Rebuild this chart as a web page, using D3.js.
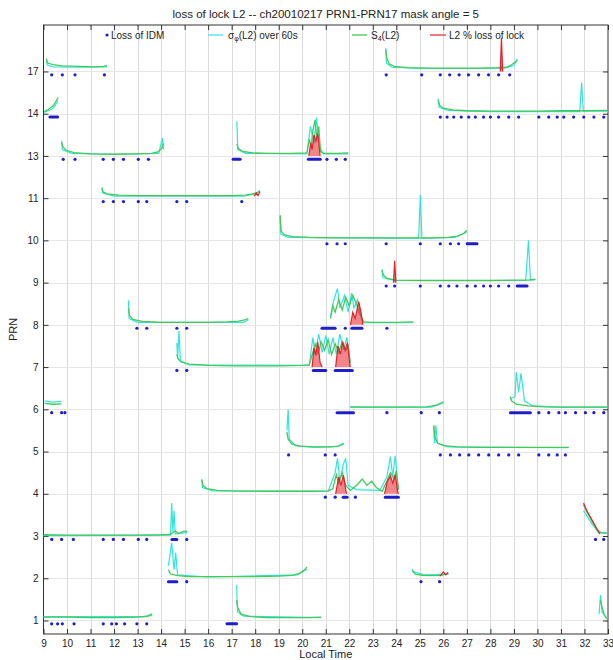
<!DOCTYPE html>
<html><head><meta charset="utf-8">
<script src="https://cdn.jsdelivr.net/npm/d3@7"></script>
<style>
html,body{margin:0;padding:0;background:#fff;}
svg{display:block;font-family:"Liberation Sans",Arial,Helvetica,sans-serif;}
</style></head><body>
<svg id="chart" width="613" height="660"></svg>
<script>
// ---------- data ----------
const prnLabels = ["1","2","3","4","5","6","7","8","9","10","11","13","14","17"];
const hourTicks = [9,10,11,12,13,14,15,16,17,18,19,20,21,22,23,24,25,26,27,28,29,30,31,32,33];
const titleText = "loss of lock L2 -- ch20010217 PRN1-PRN17 mask angle = 5";

// S4(L2) per pass: [row, [[localTime, value above row], ...]]
const s4Series = [
 [14, [[9.12,0.30],[9.18,0.2],[9.4,0.16],[9.8,0.13],[10.5,0.12],[11.2,0.11],[11.55,0.12],[11.7,0.14]]],
 [14, [[23.55,0.52],[23.6,0.3],[23.7,0.18],[23.9,0.12],[24.5,0.09],[25.5,0.08],[26.5,0.08],[27.5,0.08],[28.3,0.09],[28.7,0.1],[28.9,0.16],[29.05,0.22],[29.15,0.26]]],
 [13, [[9.03,0.05],[9.2,0.1],[9.4,0.18],[9.52,0.28],[9.62,0.38]]],
 [13, [[25.78,0.32],[25.84,0.2],[26.0,0.13],[26.4,0.09],[27,0.07],[28,0.06],[29,0.06],[30,0.06],[31,0.07],[32,0.07],[33,0.08]]],
 [12, [[9.77,0.32],[9.82,0.22],[9.95,0.14],[10.3,0.08],[11,0.05],[12,0.04],[13,0.05],[13.6,0.06],[13.9,0.1],[14.05,0.2],[14.1,0.3]]],
 [12, [[17.22,0.28],[17.28,0.18],[17.45,0.11],[17.9,0.07],[18.5,0.06],[19.5,0.06],[20.2,0.07],[20.3,0.4],[20.38,0.2],[20.45,0.6],[20.55,0.85],[20.62,0.4],[20.7,0.7],[20.78,0.1],[20.9,0.06],[21.5,0.06],[21.96,0.07]]],
 [11, [[11.48,0.23],[11.53,0.15],[11.7,0.1],[12.2,0.07],[13,0.06],[14,0.06],[15,0.06],[16,0.06],[17,0.06],[17.6,0.07],[17.9,0.1],[18.1,0.14],[18.21,0.16]]],
 [10, [[19.06,0.58],[19.1,0.22],[19.25,0.13],[19.6,0.09],[20.3,0.07],[21.5,0.06],[23,0.06],[24.5,0.06],[25.5,0.06],[26.2,0.07],[26.6,0.1],[26.85,0.16],[27.0,0.24]]],
 [9,  [[23.39,0.29],[23.45,0.18],[23.6,0.1],[24,0.06],[25,0.05],[26,0.05],[27,0.05],[28,0.05],[29,0.06],[29.6,0.06],[29.91,0.08]]],
 [8,  [[12.61,0.39],[12.66,0.22],[12.8,0.13],[13.2,0.08],[14,0.06],[15,0.06],[16,0.06],[16.8,0.07],[17.3,0.09],[17.55,0.12],[17.71,0.15]]],
 [8,  [[21.2,0.15],[21.3,0.45],[21.4,0.3],[21.55,0.6],[21.7,0.35],[21.85,0.65],[22.0,0.45],[22.15,0.7],[22.3,0.5],[22.45,0.25],[22.6,0.07],[23,0.06],[24,0.06],[24.72,0.07]]],
 [7,  [[14.67,0.3],[14.72,0.2],[14.85,0.12],[15.2,0.07],[16,0.04],[17,0.03],[18,0.03],[19,0.03],[20,0.04],[20.3,0.05],[20.45,0.35],[20.55,0.55],[20.68,0.3],[20.8,0.6],[20.95,0.4],[21.1,0.65],[21.25,0.3],[21.4,0.55],[21.55,0.35],[21.7,0.6],[21.85,0.4],[21.95,0.5],[22.04,0.1]]],
 [6,  [[9.05,0.14],[9.4,0.12],[9.77,0.13]]],
 [6,  [[22.04,0.06],[22.5,0.05],[23.5,0.05],[24.5,0.05],[25.3,0.06],[25.7,0.1],[25.9,0.15],[26.0,0.18]]],
 [6,  [[28.85,0.3],[28.9,0.2],[29.1,0.12],[29.6,0.08],[30.3,0.06],[31,0.05],[32,0.05],[33,0.05]]],
 [5,  [[19.35,0.46],[19.4,0.3],[19.55,0.18],[19.9,0.13],[20.5,0.11],[21.2,0.11],[21.55,0.13],[21.76,0.18]]],
 [5,  [[25.59,0.62],[25.64,0.35],[25.75,0.2],[26.0,0.14],[26.6,0.11],[27.5,0.1],[28.5,0.1],[29.5,0.1],[30.5,0.1],[31.33,0.1]]],
 [4,  [[15.73,0.33],[15.78,0.2],[15.95,0.12],[16.4,0.08],[17.2,0.065],[18.5,0.06],[19.5,0.06],[20.5,0.06],[21.1,0.07],[21.3,0.12],[21.45,0.45],[21.55,0.25],[21.7,0.5],[21.85,0.2],[22.05,0.08],[22.35,0.22],[22.55,0.35],[22.75,0.2],[22.95,0.3],[23.15,0.15],[23.4,0.06],[23.6,0.3],[23.75,0.5],[23.9,0.35],[24.0,0.55],[24.09,0.1]]],
 [3,  [[9.0,0.03],[10,0.02],[11,0.02],[12,0.02],[13,0.02],[14,0.03],[14.4,0.04],[14.6,0.12],[14.75,0.06],[14.9,0.1],[15.05,0.12],[15.1,0.1]]],
 [3,  [[31.96,0.74],[32.1,0.57],[32.25,0.42],[32.4,0.27],[32.55,0.14],[32.7,0.08],[33,0.07]]],
 [2,  [[14.31,0.2],[14.4,0.1],[14.7,0.06],[15.2,0.04],[16,0.04],[17,0.04],[18,0.04],[19,0.05],[19.6,0.07],[19.9,0.12],[20.1,0.2],[20.2,0.27]]],
 [2,  [[24.67,0.18],[24.8,0.1],[25.1,0.07],[25.5,0.06],[25.9,0.07],[26.1,0.1],[26.22,0.12]]],
 [1,  [[9.0,0.08],[10,0.08],[11,0.07],[12,0.07],[13,0.08],[13.4,0.1],[13.55,0.14],[13.62,0.16]]],
 [1,  [[17.21,0.48],[17.26,0.3],[17.4,0.15],[17.8,0.09],[18.5,0.07],[19.5,0.07],[20.3,0.07],[20.8,0.08]]],
 [1,  [[32.68,0.48],[32.75,0.3],[32.85,0.12],[32.95,0.05],[33,0.04]]]
];

// sigma-phi(L2) over 60 s per pass
const sigmaSeries = [
 [14, [[9.12,0.24],[9.16,0.15],[9.4,0.11],[10.5,0.1],[11.7,0.11]]],
 [14, [[23.55,0.55],[23.58,0.2],[23.8,0.1],[25,0.07],[27,0.07],[28.6,0.08],[29.0,0.14],[29.15,0.3]]],
 [13, [[9.03,0.03],[9.4,0.12],[9.62,0.3]]],
 [13, [[25.78,0.36],[25.82,0.15],[26.2,0.08],[28,0.05],[30,0.05],[31.8,0.05],[31.88,0.74],[31.95,0.06],[33,0.06]]],
 [12, [[9.77,0.36],[9.8,0.15],[10.2,0.06],[12,0.04],[13.9,0.06],[14.05,0.42],[14.1,0.15]]],
 [12, [[17.22,0.82],[17.26,0.15],[17.6,0.06],[20.2,0.05],[20.35,0.7],[20.5,0.3],[20.6,0.9],[20.75,0.2],[20.9,0.05],[21.96,0.05]]],
 [11, [[11.48,0.26],[11.52,0.12],[12,0.05],[17.5,0.05],[18.0,0.1],[18.21,0.18]]],
 [10, [[19.06,0.6],[19.09,0.15],[19.4,0.07],[24.95,0.05],[25.02,1.08],[25.09,0.05],[26.5,0.07],[27.0,0.2]]],
 [9,  [[23.39,0.32],[23.43,0.12],[23.9,0.05],[29.5,0.05],[29.62,1.0],[29.7,0.06],[29.91,0.07]]],
 [8,  [[12.61,0.58],[12.64,0.15],[13,0.06],[17.5,0.06],[17.71,0.12]]],
 [8,  [[21.2,0.2],[21.35,0.6],[21.5,0.86],[21.6,0.4],[21.8,0.7],[21.95,0.3],[22.1,0.75],[22.2,0.4],[22.35,0.6],[22.5,0.2],[22.65,0.05],[24.72,0.05]]],
 [7,  [[14.67,0.57],[14.7,0.2],[14.76,0.86],[14.82,0.15],[15.2,0.05],[20.3,0.04],[20.45,0.7],[20.55,0.3],[20.7,0.78],[20.85,0.35],[21.0,0.75],[21.15,0.3],[21.3,0.7],[21.45,0.3],[21.6,0.78],[21.75,0.4],[21.9,0.7],[22.04,0.08]]],
 [6,  [[9.05,0.2],[9.4,0.17],[9.77,0.19]]],
 [6,  [[22.04,0.05],[25.5,0.05],[26.0,0.15]]],
 [6,  [[28.85,0.25],[29.05,0.3],[29.1,0.88],[29.2,0.4],[29.3,0.85],[29.45,0.2],[29.8,0.08],[31,0.05],[33,0.05]]],
 [5,  [[19.35,0.5],[19.4,1.0],[19.45,0.3],[19.7,0.14],[20.5,0.1],[21.5,0.12],[21.76,0.2]]],
 [5,  [[25.59,0.6],[25.62,0.2],[25.68,0.62],[25.75,0.2],[26.2,0.11],[31.33,0.09]]],
 [4,  [[15.73,0.35],[15.76,0.15],[16.2,0.07],[21.1,0.06],[21.4,0.5],[21.5,0.84],[21.6,0.3],[21.75,0.7],[21.85,0.84],[21.95,0.2],[22.3,0.1],[23.3,0.08],[23.6,0.4],[23.75,0.88],[23.85,0.4],[23.95,0.9],[24.05,0.3],[24.09,0.1]]],
 [3,  [[9.0,0.01],[14.4,0.02],[14.45,0.78],[14.5,0.1],[14.55,0.6],[14.6,0.05],[15.1,0.08]]],
 [3,  [[31.96,0.6],[32.3,0.3],[32.6,0.08],[33,0.06]]],
 [2,  [[14.31,0.3],[14.45,0.84],[14.55,0.2],[14.62,0.6],[14.7,0.08],[16,0.03],[19.8,0.08],[20.2,0.22]]],
 [2,  [[24.67,0.22],[24.75,0.15],[25.2,0.08],[26.22,0.1]]],
 [1,  [[9.0,0.09],[13.3,0.09],[13.62,0.12]]],
 [1,  [[17.21,0.84],[17.25,0.2],[17.5,0.1],[20.8,0.07]]],
 [1,  [[32.62,0.15],[32.68,0.6],[32.75,0.2],[32.9,0.08],[33,0.06]]]
];

// L2 % loss of lock
const lossPctSeries = [
 [14, [[28.42,0],[28.47,0.8],[28.52,0]]],
 [12, [[20.28,0],[20.36,0.3],[20.42,0.15],[20.5,0.5],[20.58,0.35],[20.66,0.52],[20.76,0]]],
 [11, [[17.95,0.05],[18.05,0.12],[18.12,0.06],[18.2,0.15]]],
 [9,  [[23.88,0],[23.93,0.52],[23.98,0]]],
 [8,  [[22.05,0],[22.15,0.3],[22.25,0.15],[22.4,0.55],[22.5,0.3],[22.58,0]]],
 [7,  [[20.42,0],[20.5,0.45],[20.58,0.28],[20.66,0.6],[20.76,0.1],[20.85,0]]],
 [7,  [[21.42,0],[21.52,0.5],[21.62,0.3],[21.72,0.6],[21.82,0.4],[21.92,0.58],[22.04,0]]],
 [4,  [[21.42,0],[21.55,0.4],[21.65,0.2],[21.75,0.44],[21.88,0]]],
 [4,  [[23.5,0],[23.62,0.3],[23.75,0.42],[23.85,0.25],[23.95,0.45],[24.08,0]]],
 [3,  [[31.96,0.78],[32.1,0.6],[32.25,0.45],[32.4,0.3],[32.55,0.15],[32.65,0.05]]],
 [2,  [[25.85,0.05],[26.0,0.15],[26.1,0.08],[26.2,0.14]]]
];

// loss-of-lock events (single epochs) and continuous runs
const lossDots = [
 [14, [9.35,9.8,10.34,11.59,23.57,25.08,25.87,26.27,26.67,27.07,27.5,27.92,28.35,28.82]],
 [13, [25.87,26.16,26.44,26.76,27.08,27.36,27.71,28.0,28.35,28.78,29.2,30.06,30.48,30.84,31.12,31.54,31.97,32.4,32.82]],
 [12, [9.84,10.34,11.54,11.97,12.4,13.03,13.46,21.05,21.45,21.83]],
 [11, [11.54,11.97,12.4,13.03,13.39,14.67,15.09,17.43]],
 [10, [21.05,21.48,21.83,23.57,25.02,25.87,26.3,26.65]],
 [9,  [23.57,23.93,25.02,25.87,26.23,26.58,27.01,27.36,27.71,28.0,28.35,28.78]],
 [8,  [12.97,13.39,14.67,15.09,21.83,23.6]],
 [7,  [14.67,15.09]],
 [6,  [9.35,9.77,9.91,23.6,25.06,25.83,30.06,30.48,30.91,31.19,31.62,32.04,32.4,32.82]],
 [5,  [19.42,20.98,21.4,25.87,26.3,26.69,27.08,27.5,27.93,28.35,28.78,29.2,30.06,30.48,30.84,31.19]],
 [4,  [20.98,21.4,22.26]],
 [3,  [9.35,9.77,10.27,11.54,11.97,12.4,13.03,13.39,15.09,32.47,32.82]],
 [2,  [15.09,25.05,25.84]],
 [1,  [9.35,9.6,9.8,10.3,11.54,11.9,12.1,12.45,12.97,13.39]]
];
const lossBars = [
 [13, 9.27, 9.6],
 [12, 17.06, 17.36], [12, 20.26, 20.77],
 [10, 27.01, 27.43],
 [9, 29.14, 29.56],
 [8, 20.84, 21.4], [8, 22.11, 22.54],
 [7, 20.47, 21.0], [7, 21.4, 22.13],
 [6, 21.48, 22.18], [6, 28.85, 29.7],
 [4, 21.74, 21.91], [4, 23.53, 24.09],
 [3, 14.46, 14.67],
 [2, 14.31, 14.67],
 [1, 16.8, 17.21]
];

// ---------- drawing ----------
const C = {blue:"#1e1ec8", cyan:"#2fe6df", green:"#45c85a", red:"#e8202a", grid:"#dadada"};
const svg = d3.select("#chart");
const L = 43.5, R = 608, T = 25, B = 634;
const x = d3.scaleLinear().domain([9,33]).range([L,R]);
const y = d3.scaleLinear().domain([0.68,15.1]).range([B,T]);
const rows = prnLabels.map((d,i)=>i+1);
const dotOff = -0.08;

// grid
const g = svg.append("g");
g.selectAll(".vg").data(hourTicks.slice(1,-1)).join("line")
  .attr("x1",d=>Math.round(x(d))+0.5).attr("x2",d=>Math.round(x(d))+0.5)
  .attr("y1",T).attr("y2",B).attr("stroke",C.grid).attr("stroke-width",1);
g.selectAll(".hg").data(rows).join("line")
  .attr("x1",L).attr("x2",R)
  .attr("y1",d=>Math.round(y(d))+0.5).attr("y2",d=>Math.round(y(d))+0.5)
  .attr("stroke","#e6e6e6").attr("stroke-width",1);

// axes
const fmtRow = i => prnLabels[i-1];
const axB = svg.append("g").attr("transform",`translate(0,${B})`)
  .call(d3.axisBottom(x).tickValues(hourTicks).tickSizeInner(-5).tickSizeOuter(0).tickPadding(6).tickFormat(d3.format("d")));
const axT = svg.append("g").attr("transform",`translate(0,${T})`)
  .call(d3.axisTop(x).tickValues(hourTicks).tickSizeInner(-5).tickSizeOuter(0).tickFormat(""));
const axL = svg.append("g").attr("transform",`translate(${L},0)`)
  .call(d3.axisLeft(y).tickValues(rows).tickSizeInner(-5).tickSizeOuter(0).tickPadding(5).tickFormat(fmtRow));
const axR = svg.append("g").attr("transform",`translate(${R},0)`)
  .call(d3.axisRight(y).tickValues(rows).tickSizeInner(-5).tickSizeOuter(0).tickFormat(""));
[axB,axT,axL,axR].forEach(a=>{
  a.select(".domain").remove();
  a.selectAll(".tick line").attr("stroke","#333");
  a.selectAll("text").attr("font-size",10).attr("fill","#222").attr("font-family",null);
});
svg.append("rect").attr("x",L).attr("y",T).attr("width",R-L).attr("height",B-T)
  .attr("fill","none").attr("stroke","#333").attr("stroke-width",1);

// series
const lineFor = row => d3.line().x(d=>x(d[0])).y(d=>y(row+d[1]));
const plot = svg.append("g");
plot.selectAll(".sig").data(sigmaSeries).join("path")
  .attr("d",d=>lineFor(d[0])(d[1])).attr("fill","none").attr("stroke",C.cyan).attr("stroke-width",1.2);
plot.selectAll(".s4").data(s4Series).join("path")
  .attr("d",d=>lineFor(d[0])(d[1])).attr("fill","none").attr("stroke",C.green).attr("stroke-width",1.3);
// peaks that rise from zero are shaded; the others are plain lines
const areaFor = row => d3.area().x(d=>x(d[0])).y0(y(row)).y1(d=>y(row+d[1]));
const peaked = lossPctSeries.filter(d=>d[1][0][1]===0 && d[1][d[1].length-1][1]===0);
plot.selectAll(".lpa").data(peaked).join("path")
  .attr("d",d=>areaFor(d[0])(d[1])).attr("fill",C.red).attr("fill-opacity",0.55);
plot.selectAll(".lpl").data(lossPctSeries).join("path")
  .attr("d",d=>lineFor(d[0])(d[1])).attr("fill","none").attr("stroke",C.red).attr("stroke-width",1.2);

// loss-of-lock markers
plot.selectAll(".lb").data(lossBars).join("line")
  .attr("x1",d=>x(d[1])).attr("x2",d=>x(d[2]))
  .attr("y1",d=>y(d[0]+dotOff)).attr("y2",d=>y(d[0]+dotOff))
  .attr("stroke",C.blue).attr("stroke-width",3).attr("stroke-linecap","round");
const dotPts = lossDots.flatMap(([row,ts])=>ts.map(t=>[row,t]));
plot.selectAll(".ld").data(dotPts).join("circle")
  .attr("cx",d=>x(d[1])).attr("cy",d=>y(d[0]+dotOff)).attr("r",1.6).attr("fill",C.blue);

// title and labels
svg.append("text").attr("x",(L+R)/2).attr("y",18).attr("text-anchor","middle")
  .attr("font-size",11.5).attr("fill","#222").text(titleText);
svg.append("text").attr("x",(L+R)/2).attr("y",658).attr("text-anchor","middle")
  .attr("font-size",11).attr("fill","#222").text("Local Time");
svg.append("text").attr("transform",`translate(17,${(T+B)/2}) rotate(-90)`).attr("text-anchor","middle")
  .attr("font-size",11).attr("fill","#222").text("PRN");

// legend
const lg = svg.append("g").attr("font-size",10).attr("fill","#222");
const ly = 35;
lg.append("circle").attr("cx",107).attr("cy",ly).attr("r",1.6).attr("fill",C.blue);
lg.append("text").attr("x",111).attr("y",ly+3.5).text("Loss of IDM");
lg.append("line").attr("x1",208).attr("x2",223).attr("y1",ly).attr("y2",ly).attr("stroke",C.cyan).attr("stroke-width",1.2);
const t2 = lg.append("text").attr("x",228).attr("y",ly+3.5);
t2.append("tspan").text("σ");
t2.append("tspan").attr("font-size",7).attr("dy",2).text("φ");
t2.append("tspan").attr("dy",-2).text("(L2) over 60s");
lg.append("line").attr("x1",352).attr("x2",367).attr("y1",ly).attr("y2",ly).attr("stroke",C.green).attr("stroke-width",1.3);
const t3 = lg.append("text").attr("x",371).attr("y",ly+3.5);
t3.append("tspan").text("S");
t3.append("tspan").attr("font-size",7).attr("dy",2).text("4");
t3.append("tspan").attr("dy",-2).text("(L2)");
lg.append("line").attr("x1",430).attr("x2",446).attr("y1",ly).attr("y2",ly).attr("stroke",C.red).attr("stroke-width",1.2);
lg.append("text").attr("x",449).attr("y",ly+3.5).text("L2 % loss of lock");
</script>
</body></html>
